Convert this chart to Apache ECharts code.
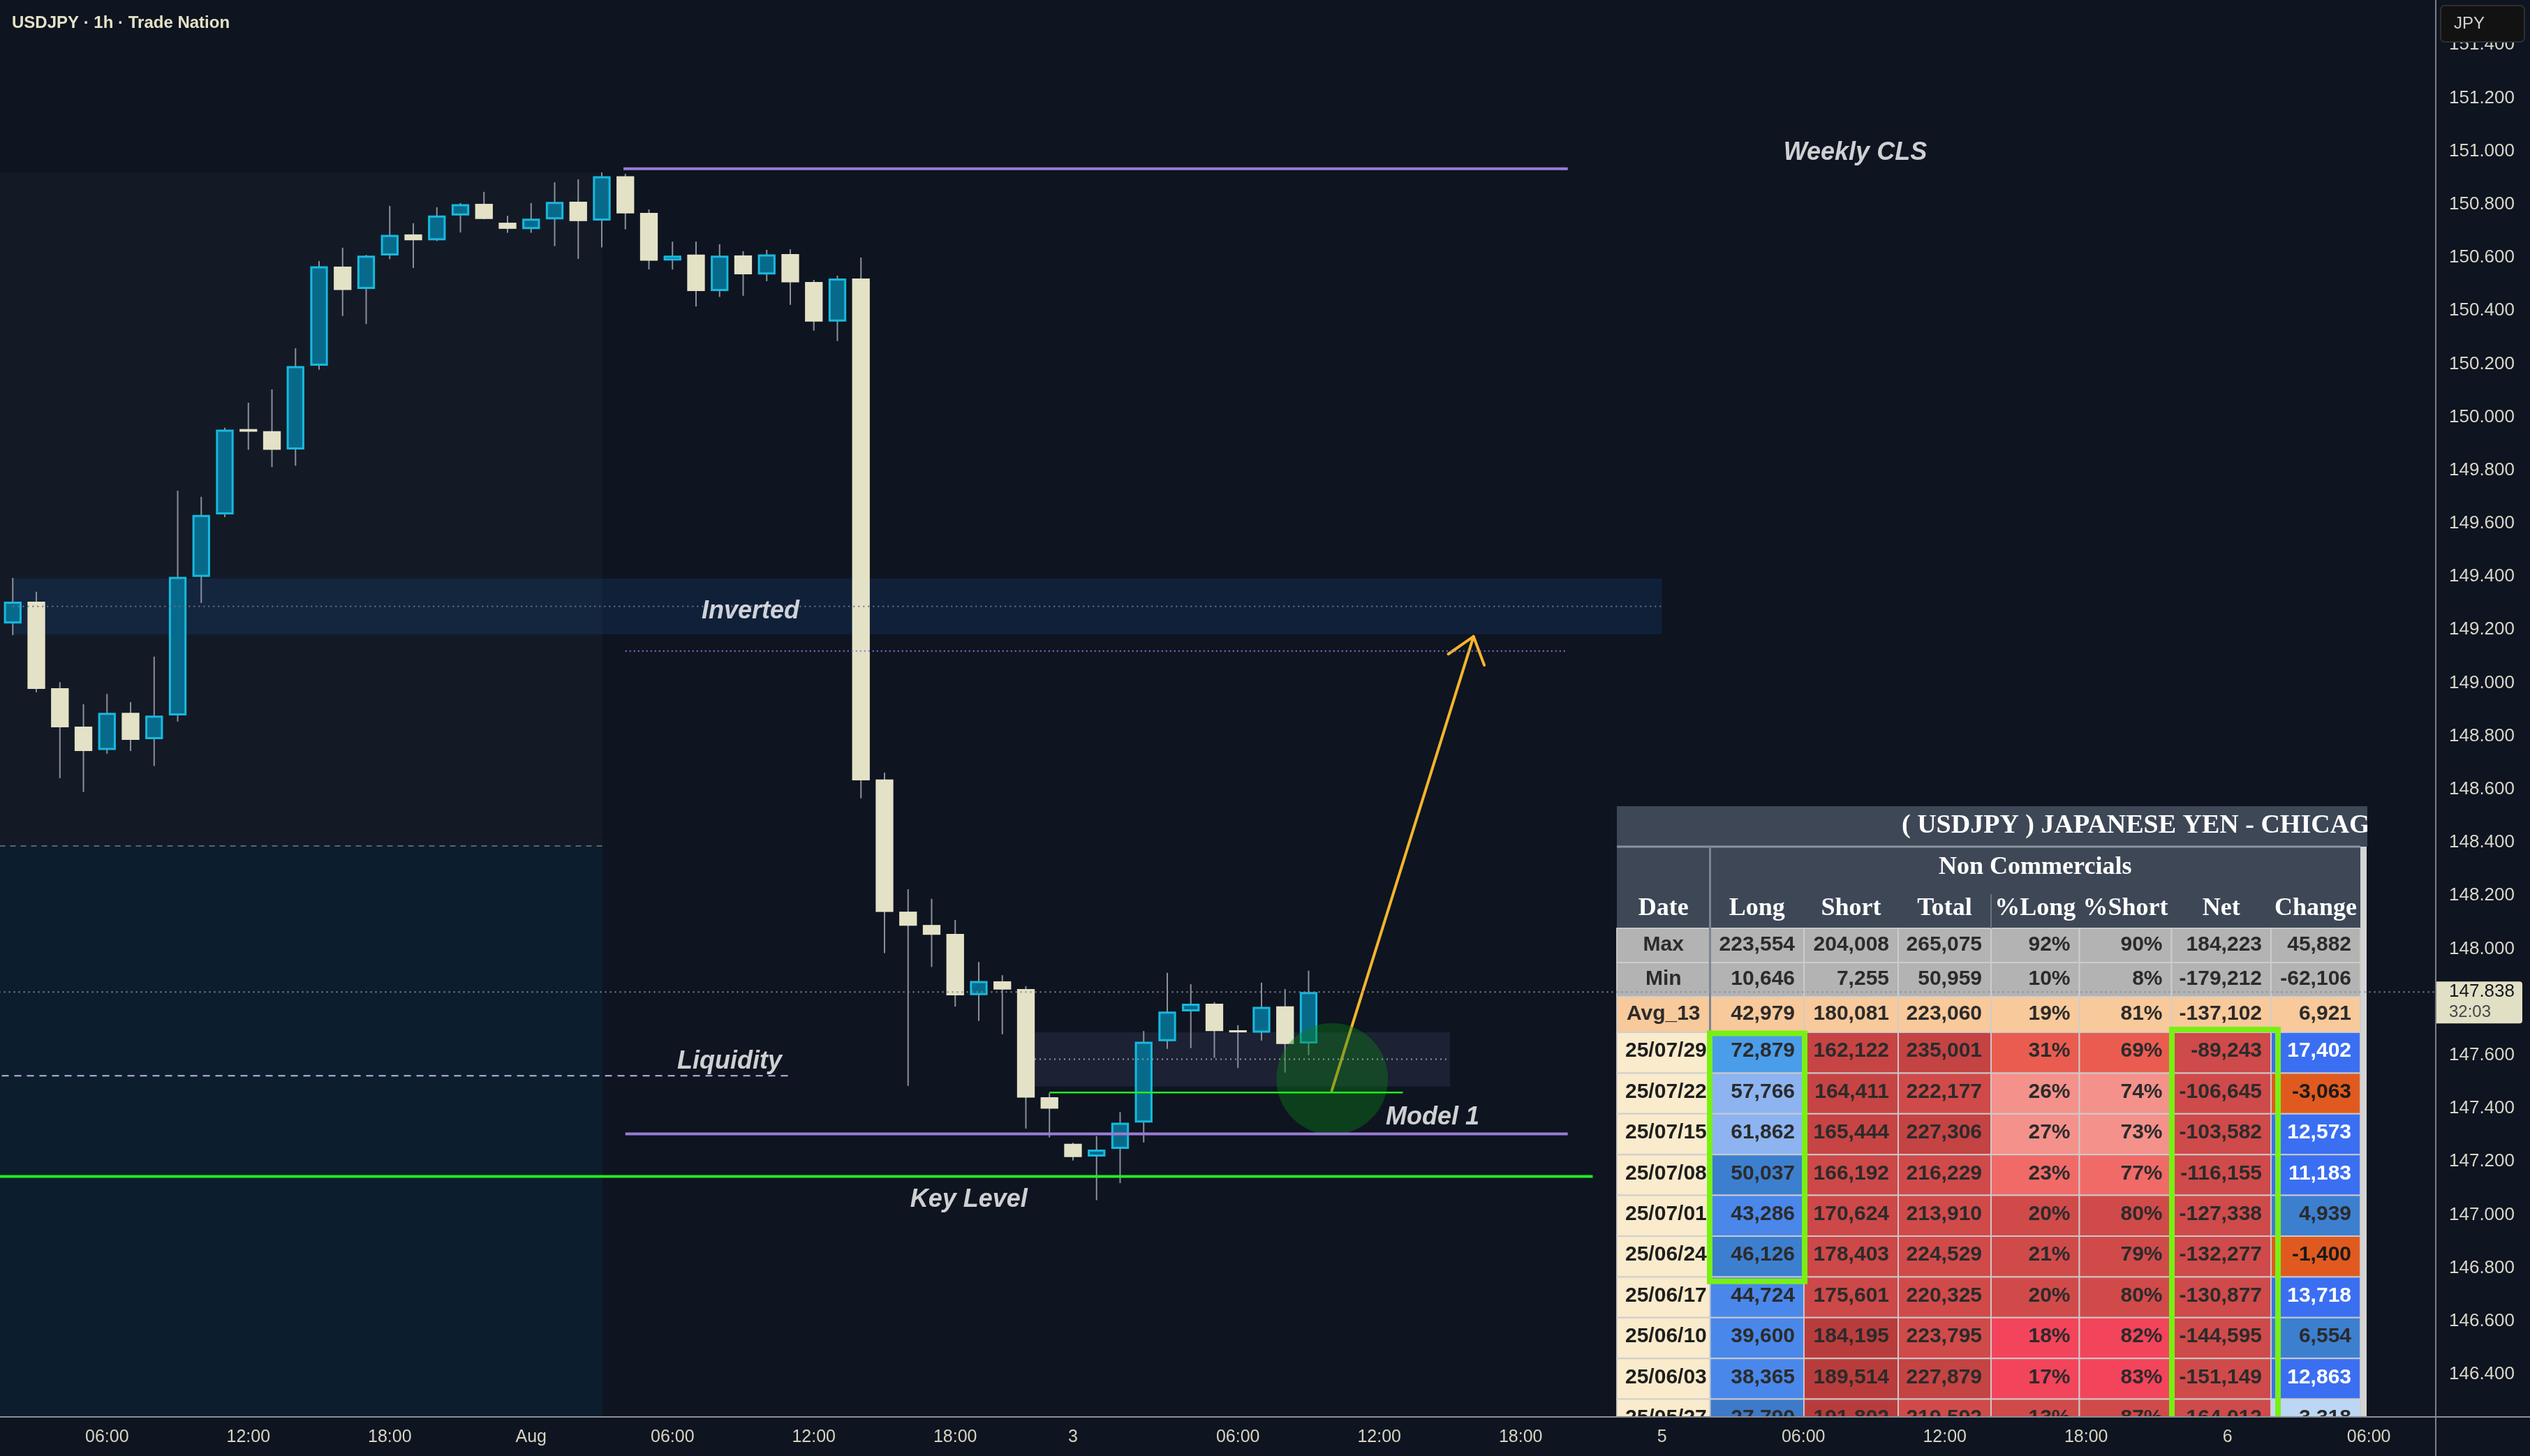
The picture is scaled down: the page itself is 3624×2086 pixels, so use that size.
<!DOCTYPE html>
<html><head><meta charset="utf-8">
<script src="https://cdn.jsdelivr.net/npm/echarts@6/dist/echarts.min.js"></script>
<style>html,body{margin:0;padding:0;background:#0e1420;}#c{width:3624px;height:2086px;}</style>
</head><body><div id="c"></div><script>
// ---------------- DATA ----------------
const barIndex = [0,1,2,3,4,5,6,7,8,9,10,11,12,13,14,15,16,17,18,19,20,21,22,23,24,25,26,27,28,29,30,31,32,33,34,35,36,37,38,39,40,41,42,43,44,45,46,47,48,49,50,51,52,53,54,55];
const opens  = [149.224,149.306,148.980,148.836,148.748,148.888,148.789,148.878,149.399,149.634,149.955,149.947,149.878,150.193,150.566,150.482,150.608,150.687,150.665,150.758,150.802,150.731,150.707,150.744,150.810,150.739,150.906,150.768,150.589,150.611,150.474,150.608,150.536,150.613,150.508,150.359,150.521,148.637,148.140,148.090,148.056,147.826,147.878,147.849,147.442,147.267,147.219,147.248,147.347,147.653,147.765,147.794,147.694,147.685,147.784,147.644];
const closes = [149.306,148.978,148.833,148.744,148.888,148.786,148.877,149.399,149.632,149.953,149.945,149.877,150.192,150.567,150.478,150.607,150.685,150.665,150.758,150.801,150.745,150.708,150.746,150.809,150.737,150.906,150.766,150.588,150.607,150.474,150.607,150.537,150.612,150.507,150.359,150.521,148.634,148.139,148.087,148.053,147.825,147.879,147.847,147.441,147.399,147.217,147.245,147.346,147.651,147.764,147.794,147.691,147.686,147.782,147.642,147.838];
const lows   = [149.180,148.965,148.642,148.590,148.734,148.744,148.688,148.855,149.301,149.624,149.877,149.812,149.817,150.178,150.380,150.350,150.594,150.561,150.662,150.694,150.744,150.693,150.693,150.643,150.595,150.638,150.706,150.555,150.555,150.416,150.452,150.456,150.511,150.422,150.325,150.286,148.566,147.984,147.485,147.932,147.783,147.729,147.679,147.324,147.291,147.204,147.055,147.119,147.272,147.624,147.627,147.590,147.552,147.655,147.535,147.600];
const highs  = [149.395,149.343,149.003,148.920,148.959,148.928,149.099,149.723,149.700,149.960,150.054,150.104,150.259,150.587,150.637,150.610,150.794,150.729,150.789,150.805,150.847,150.757,150.805,150.883,150.894,150.920,150.915,150.781,150.660,150.660,150.650,150.624,150.629,150.631,150.516,150.532,150.600,148.663,148.224,148.188,148.109,147.951,147.901,147.860,147.458,147.271,147.296,147.386,147.691,147.910,147.867,147.800,147.713,147.873,147.849,147.918];

const xLabelIdx  = [4,10,16,22,28,34,40,45,52,58,64,70,76,82,88,94,100];
const xLabelText = ['06:00','12:00','18:00','Aug','06:00','12:00','18:00','3','06:00','12:00','18:00','5','06:00','12:00','18:00','6','06:00'];
const yTicks = [146.4,146.6,146.8,147.0,147.2,147.4,147.6,147.8,148.0,148.2,148.4,148.6,148.8,149.0,149.2,149.4,149.6,149.8,150.0,150.2,150.4,150.6,150.8,151.0,151.2,151.4];
const lastPrice = 147.838;
const countdown = '32:03';

// COT table
const tblHeaders = ['Date','Long','Short','Total','%Long','%Short','Net','Change'];
const statLabels = ['Max','Min','Avg_13'];
const statLong   = [223554,10646,42979];
const statShort  = [204008,7255,180081];
const statTotal  = [265075,50959,223060];
const statPctL   = [92,10,19];
const statPctS   = [90,8,81];
const statNet    = [184223,-179212,-137102];
const statChange = [45882,-62106,6921];
const tblDates   = ['25/07/29','25/07/22','25/07/15','25/07/08','25/07/01','25/06/24','25/06/17','25/06/10','25/06/03','25/05/27'];
const tblLong    = [72879,57766,61862,50037,43286,46126,44724,39600,38365,27790];
const tblShort   = [162122,164411,165444,166192,170624,178403,175601,184195,189514,191802];
const tblTotal   = [235001,222177,227306,216229,213910,224529,220325,223795,227879,219592];
const tblPctL    = [31,26,27,23,20,21,20,18,17,13];
const tblPctS    = [69,74,73,77,80,79,80,82,83,87];
const tblNet     = [-89243,-106645,-103582,-116155,-127338,-132277,-130877,-144595,-151149,-164012];
const tblChange  = [17402,-3063,12573,11183,4939,-1400,13718,6554,12863,3318];

// ---------------- DRAWINGS (chart annotations, data space) ----------------
const zoneStyles = ['#131a26','#0c1e2d','rgba(30,90,170,0.18)','rgba(70,70,110,0.25)'];
const zones = [ // x1, y1, x2, y2, style
  [-1, 148.387, 25.03, 150.920, 0],
  [-1, 146.0, 25.03, 148.387, 1],
  [0, 149.183, 70, 149.393, 2],
  [43.37, 147.482, 61, 147.686, 3]
];
const lineStyles = [
  {stroke:'#5b6270', lineWidth:2, lineDash:[8,7]},
  {stroke:'#6c7484', lineWidth:2, lineDash:[2,5]},
  {stroke:'#9070d0', lineWidth:2, lineDash:[2,4]},
  {stroke:'#9a7cd6', lineWidth:4},
  {stroke:'#20ee20', lineWidth:4},
  {stroke:'#20ee20', lineWidth:2.5},
  {stroke:'#bdb5e6', lineWidth:2, lineDash:[10,8]},
  {stroke:'#868a94', lineWidth:2, lineDash:[2,5]},
  {stroke:'#959aa5', lineWidth:2, lineDash:[2,5]}
];
const hLines = [ // x1, x2, y, style
  [-1, 25.03, 148.387, 0],
  [0, 70, 149.288, 1],
  [26, 66, 149.120, 2],
  [25.92, 66, 150.934, 3],
  [26, 66, 147.304, 3],
  [-1, 67.06, 147.144, 4],
  [44, 59, 147.460, 5],
  [-1, 33, 147.523, 6],
  [-1, 104, 147.838, 7],
  [43.37, 61, 147.585, 8]
];
const arrowPts = [[55.98, 147.466, 62, 149.175]];
const circlePts = [[56.0, 147.511]];
const labelPts = [
  [31.31, 149.269, 'Inverted'],
  [78.2, 150.994, 'Weekly CLS'],
  [30.42, 147.577, 'Liquidity'],
  [60.26, 147.366, 'Model 1'],
  [40.58, 147.056, 'Key Level']
];

// ---------------- CHART ----------------
const FONT = "'Liberation Sans', Arial, sans-serif";
const SERIF = "'Liberation Serif', 'Times New Roman', serif";
const BG = '#0e1420';
const chart = echarts.init(document.getElementById('c'), null, {renderer:'canvas', width:3624, height:2086});
const candleData = barIndex.map((x,k)=>[x, opens[k], closes[k], lows[k], highs[k]]);

function renderCandle(params, api){
  const x=api.value(0), o=api.value(1), c=api.value(2), l=api.value(3), h=api.value(4);
  const pH=api.coord([x,h]), pL=api.coord([x,l]), pO=api.coord([x,o]), pC=api.coord([x,c]);
  const bw = api.size([1,0])[0]*0.75;
  const up = c >= o;
  const top=Math.min(pO[1],pC[1]), bot=Math.max(pO[1],pC[1]);
  const hgt=Math.max(bot-top, 2);
  const body = up
    ? {type:'rect', shape:{x:pO[0]-bw/2+1.5, y:top+1.5, width:bw-3, height:Math.max(hgt-3,1)}, style:{fill:'#086a8b', stroke:'#17b9de', lineWidth:3}}
    : {type:'rect', shape:{x:pO[0]-bw/2, y:top, width:bw, height:hgt}, style:{fill:'#e4e2c6'}};
  return {type:'group', children:[
    {type:'line', shape:{x1:pH[0],y1:pH[1],x2:pL[0],y2:pL[1]}, style:{stroke:'#8b909b', lineWidth:2}},
    body
  ]};
}
function renderZone(params, api){
  const p1=api.coord([api.value(0), api.value(1)]), p2=api.coord([api.value(2), api.value(3)]);
  return {type:'rect', shape:{x:Math.min(p1[0],p2[0]), y:Math.min(p1[1],p2[1]), width:Math.abs(p2[0]-p1[0]), height:Math.abs(p2[1]-p1[1])}, style:{fill:zoneStyles[api.value(4)]}};
}
function renderLine(params, api){
  const a=api.coord([api.value(0), api.value(2)]), b=api.coord([api.value(1), api.value(2)]);
  const st = Object.assign({fill:null}, lineStyles[api.value(3)]);
  return {type:'line', shape:{x1:a[0],y1:a[1],x2:b[0],y2:b[1]}, style:st};
}
function renderArrow(params, api){
  const a=api.coord([api.value(0),api.value(1)]), b=api.coord([api.value(2),api.value(3)]);
  const ang=Math.atan2(a[1]-b[1], a[0]-b[0]);
  const L=44, sp=0.66;
  const h1=[b[0]+L*Math.cos(ang+sp), b[1]+L*Math.sin(ang+sp)];
  const h2=[b[0]+L*Math.cos(ang-sp), b[1]+L*Math.sin(ang-sp)];
  return {type:'group', children:[
    {type:'line', shape:{x1:a[0],y1:a[1],x2:b[0],y2:b[1]}, style:{stroke:'#f6b42c', lineWidth:4, lineCap:'round'}},
    {type:'polyline', shape:{points:[h1,b,h2]}, style:{stroke:'#f6b42c', lineWidth:4, fill:null, lineJoin:'round', lineCap:'round'}}
  ]};
}

const option = {
  backgroundColor: BG,
  animation: false,
  grid: {left:0, right:135, top:0, bottom:56},
  xAxis: {
    type:'value', min:-0.542, max:102.84, z:150,
    axisLine:{show:false}, axisTick:{show:false}, splitLine:{show:false},
    axisLabel:{customValues:xLabelIdx, formatter:(v)=>{const k=xLabelIdx.indexOf(Math.round(v)); return k>=0?xLabelText[k]:'';},
      color:'#d6d4bf', fontSize:25, fontFamily:FONT, margin:17}
  },
  yAxis: {
    type:'value', position:'right', min:146.2398, max:151.5686, z:150,
    axisLine:{show:false}, axisTick:{show:false}, splitLine:{show:false},
    axisLabel:{customValues:yTicks, formatter:(v)=>v.toFixed(3), color:'#d8d7c8', fontSize:26, fontFamily:FONT, margin:19}
  },
  series: [
    {type:'custom', name:'zones', z:1, clip:true, silent:true, renderItem:renderZone, encode:{x:[0,2], y:[1,3]}, data:zones},
    {type:'custom', name:'USDJPY', z:3, clip:true, renderItem:renderCandle, encode:{x:0, y:[1,2,3,4]}, data:candleData},
    {type:'custom', name:'arrow', z:5, clip:true, silent:true, renderItem:renderArrow, encode:{x:[0,2], y:[1,3]}, data:arrowPts},
    {type:'scatter', name:'circle', z:6, silent:true, symbol:'circle', symbolSize:160, itemStyle:{color:'rgba(10,128,20,0.5)'}, data:circlePts},
    {type:'custom', name:'levels', z:110, clip:true, silent:true, renderItem:renderLine, encode:{x:[0,1], y:2}, data:hLines},
    {type:'scatter', name:'labels', z:112, silent:true, symbolSize:1, itemStyle:{color:'rgba(0,0,0,0)'},
      label:{show:true, position:'inside', formatter:(p)=>p.data[2], color:'#ffffff', fontSize:36, fontStyle:'italic', fontWeight:'bold', fontFamily:FONT},
      data:labelPts}
  ]
};
chart.setOption(option);

// ---------------- OVERLAYS (pixel graphics: table image, axis chrome) ----------------
const G = [];
function rect(x,y,w,h,fill,z,stroke,lw,r){ G.push({type:'rect', silent:true, z:z, shape:{x:x,y:y,width:w,height:h,r:r||0}, style:{fill:fill, stroke:stroke||null, lineWidth:lw||0}}); }
function txt(s,x,y,align,font,color,z,extra){ G.push({type:'text', silent:true, z:z, style:Object.assign({text:s, x:x, y:y, textAlign:align, textVerticalAlign:'middle', font:font, fill:color}, extra||{})}); }
function line(x1,y1,x2,y2,stroke,lw,z){ G.push({type:'line', silent:true, z:z, shape:{x1:x1,y1:y1,x2:x2,y2:y2}, style:{stroke:stroke, lineWidth:lw}}); }
const fmt = (n)=>n.toLocaleString('en-US');

// table geometry
const colX = [2316, 2449.5, 2584, 2719, 2852, 2978.5, 3110.5, 3253, 3381];
const tTop = 1155, hdrTop = 1213, colHdrTop = 1273, bodyTop = 1330;
const statH = [49, 49, 51];
const rowH = 58.4;
const cellFont = "bold 30px " + FONT;
const hdrFont = "bold 36px " + SERIF;
const textDark = '#2b2b2b';

rect(colX[0], tTop, 1075, hdrTop - tTop, '#3d4756', 100);
txt('( USDJPY ) JAPANESE YEN - CHICAGO MERCANTILE EXCHANGE', 2724, 1183, 'left', "bold 38px " + SERIF, '#ffffff', 101, {width:760, overflow:'truncate', ellipsis:''});
rect(colX[0], hdrTop, colX[8]-colX[0], bodyTop-hdrTop, '#3d4756', 100);
rect(colX[8], hdrTop, 9, 2030-hdrTop, '#d4d4d4', 100);
line(colX[0], hdrTop, colX[8], hdrTop, '#8a929e', 3, 101);
line(colX[4], colHdrTop+8, colX[4], bodyTop, '#6b7380', 2, 101);
txt('Non Commercials', (colX[1]+colX[8])/2, 1243, 'center', hdrFont, '#ffffff', 101);
tblHeaders.forEach((h,k)=>{ txt(h, (colX[k]+colX[k+1])/2, 1302, 'center', hdrFont, '#ffffff', 101); });

const cellStroke = 'rgba(205,205,205,0.9)';
// stat rows
let y = bodyTop;
const statBg = ['#b3b3b3','#b3b3b3','#f8c99b'];
for (let r=0;r<3;r++){
  const vals = [fmt(statLong[r]), fmt(statShort[r]), fmt(statTotal[r]), statPctL[r]+'%', statPctS[r]+'%', fmt(statNet[r]), fmt(statChange[r])];
  rect(colX[0], y, colX[1]-colX[0], statH[r], statBg[r], 100, cellStroke, 2);
  txt(statLabels[r], (colX[0]+colX[1])/2, y+statH[r]/2-1, 'center', cellFont, textDark, 101);
  for (let c=0;c<7;c++){
    rect(colX[c+1], y, colX[c+2]-colX[c+1], statH[r], statBg[r], 100, cellStroke, 2);
    txt(vals[c], colX[c+2]-13, y+statH[r]/2-1, 'right', cellFont, textDark, 101);
  }
  y += statH[r];
}
line(colX[1], hdrTop, colX[1], bodyTop+statH[0]+statH[1]+statH[2], '#7d8591', 3, 101);
const dataTop = y;
// data rows
const longBg   = ['#4a9de9','#8db4f1','#8db4f1','#3d7fcf','#4a87e9','#3d7fcf','#4a87ea','#4a87ea','#4a87ea','#3d7ac9'];
const shortBg  = ['#c64444','#c64444','#c64444','#cd4848','#cd4848','#cd4848','#cd4848','#b93c3c','#b93c3c','#b93c3c'];
const totalBg  = ['#c44343','#d04a4a','#c44343','#d04a4a','#d04a4a','#d04a4a','#d04a4a','#d04a4a','#c44343','#d04a4a'];
const pctBg    = ['#ea5c50','#f4918b','#f4918b','#f06a68','#d04a4a','#d04a4a','#d04a4a','#f2445a','#f2445a','#d04a4a'];
const changeBg = ['#3b6ff2','#e05a1f','#3b6ff2','#3b6ff2','#3d7fcf','#e05a1f','#3b6ff2','#3d7fcf','#3b6ff2','#bcd7f3'];
const changeFg = ['#ffffff','#1a1a1a','#ffffff','#ffffff','#2a2a2a','#1a1a1a','#ffffff','#2a2a2a','#ffffff','#2a2a2a'];
for (let r=0;r<tblDates.length;r++){
  const ry = dataTop + r*rowH;
  const cy = ry + rowH/2 - 2;
  const bgs = ['#f9ebcb', longBg[r], shortBg[r], totalBg[r], pctBg[r], pctBg[r], '#cf4a4a', changeBg[r]];
  const vals = [tblDates[r], fmt(tblLong[r]), fmt(tblShort[r]), fmt(tblTotal[r]), tblPctL[r]+'%', tblPctS[r]+'%', fmt(tblNet[r]), fmt(tblChange[r])];
  for (let c=0;c<8;c++){
    rect(colX[c], ry, colX[c+1]-colX[c], rowH, bgs[c], 100, cellStroke, 2);
    if (c===0) txt(vals[c], colX[0]+12, cy, 'left', cellFont, '#1e1e1e', 101);
    else txt(vals[c], colX[c+1]-13, cy, 'right', cellFont, c===7?changeFg[r]:textDark, 101);
  }
}
// highlight boxes
rect(2449, 1480.6, 136, 355.2, null, 102, '#78f014', 8);
rect(3111, 1475, 152, 700, null, 102, '#78f014', 8);
// clip covers
rect(3391, 1148, 97, 70, BG, 103);
rect(2300, 2031, 1188, 60, BG, 103);

// chart chrome
line(3489, 0, 3489, 2086, '#7a7e87', 2, 160);
line(0, 2030, 3624, 2030, '#8a8d94', 2, 160);
txt('USDJPY · 1h · Trade Nation', 17, 33, 'left', "bold 24px " + FONT, '#e4e2c6', 200);
rect(3496, 8, 120, 52, '#121212', 170, '#2f2f2f', 2, 6);
txt('JPY', 3515, 34, 'left', "24px " + FONT, '#d1d1d1', 171);
const tagY = chart.convertToPixel({gridIndex:0}, [55, lastPrice])[1];
rect(3490, tagY-15, 123, 60, '#e2e0c4', 170, null, 0, [0,4,4,0]);
txt(lastPrice.toFixed(3), 3508, tagY, 'left', "26px " + FONT, '#131722', 171);
txt(countdown, 3508, tagY+29, 'left', "24px " + FONT, '#43464e', 171);

chart.setOption({graphic:{elements:G}});
</script></body></html>
